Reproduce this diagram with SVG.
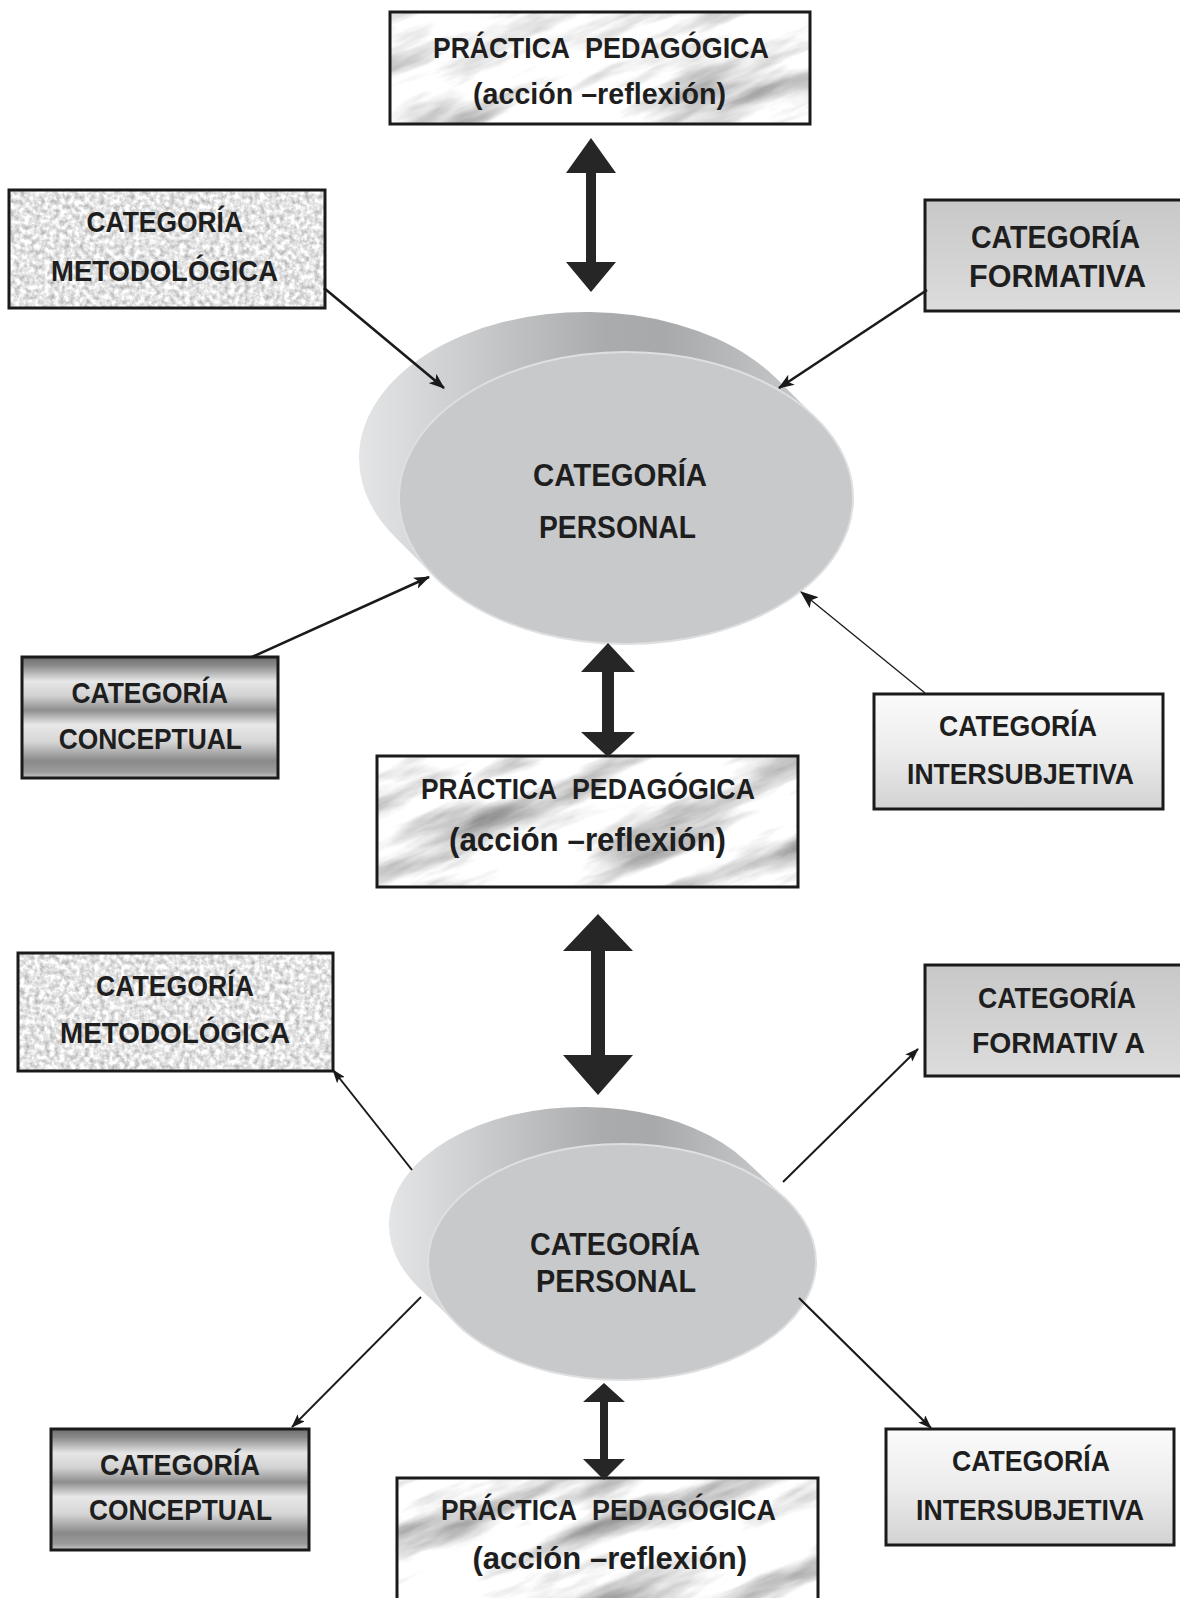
<svg xmlns="http://www.w3.org/2000/svg" width="1180" height="1598" viewBox="0 0 1180 1598">
<defs>
<style>
.t{font-family:"Liberation Sans",Arial,sans-serif;font-weight:bold;fill:#1e1e1e;font-size:29.3px}
.box{fill:none;stroke:#1a1a1a;stroke-width:3}
.ln{stroke:#1a1a1a;fill:none}
.dbl{fill:#262626}
.front{fill:#c8c9cb;stroke:#dedfe1;stroke-width:2}
.back{fill:url(#backG)}
.marble{fill:url(#marbleP)}
</style>
<filter id="marble" x="0" y="0" width="1" height="1" color-interpolation-filters="sRGB">
<feTurbulence type="fractalNoise" baseFrequency="0.006 0.03" numOctaves="5" seed="7"/>
<feColorMatrix type="matrix" values="1.0 0 0 0 0.46  1.0 0 0 0 0.46  1.0 0 0 0 0.46  0 0 0 0 1"/>
</filter>
<pattern id="marbleP" patternUnits="userSpaceOnUse" x="-600" y="-400" width="2400" height="2400" patternTransform="rotate(-22 600 800)">
<rect x="0" y="0" width="2400" height="2400" filter="url(#marble)"/>
</pattern>
<filter id="granite" x="0" y="0" width="1" height="1" color-interpolation-filters="sRGB">
<feTurbulence type="fractalNoise" baseFrequency="0.2" numOctaves="3" seed="3"/>
<feColorMatrix type="matrix" values="0.55 0 0 0 0.62  0.55 0 0 0 0.62  0.55 0 0 0 0.62  0 0 0 0 1"/>
</filter>
<linearGradient id="formG" x1="0" y1="0" x2="0" y2="1">
<stop offset="0" stop-color="#c8c8c8"/><stop offset="1" stop-color="#dcdcdc"/>
</linearGradient>
<linearGradient id="interG" x1="0" y1="0" x2="0" y2="1">
<stop offset="0" stop-color="#fbfbfb"/><stop offset="0.5" stop-color="#ececec"/><stop offset="1" stop-color="#d2d2d2"/>
</linearGradient>
<linearGradient id="concG" x1="0" y1="0" x2="0" y2="1">
<stop offset="0" stop-color="#6e6e6e"/><stop offset="0.07" stop-color="#8a8a8a"/><stop offset="0.2" stop-color="#e6e6e6"/><stop offset="0.32" stop-color="#d2d2d2"/><stop offset="0.44" stop-color="#8e8e8e"/><stop offset="0.56" stop-color="#e8e8e8"/><stop offset="0.7" stop-color="#d6d6d6"/><stop offset="0.86" stop-color="#898989"/><stop offset="0.95" stop-color="#9c9c9c"/><stop offset="1" stop-color="#c8c8c8"/>
</linearGradient>
<linearGradient id="backG" x1="0" y1="0" x2="1" y2="0">
<stop offset="0" stop-color="#e4e5e7"/><stop offset="0.15" stop-color="#d3d4d6"/><stop offset="0.5" stop-color="#aaabad"/><stop offset="0.62" stop-color="#a8a9ab"/><stop offset="0.85" stop-color="#c2c3c5"/><stop offset="1" stop-color="#cfd0d2"/>
</linearGradient>
<marker id="ah" markerUnits="userSpaceOnUse" viewBox="0 0 16 12" markerWidth="16" markerHeight="12" refX="15" refY="6" orient="auto"><path d="M0,0 L16,6 L0,12 L4,6 Z" fill="#1a1a1a"/></marker>
<marker id="ah2" markerUnits="userSpaceOnUse" viewBox="0 0 18 14" markerWidth="18" markerHeight="14" refX="17" refY="7" orient="auto"><path d="M0,0 L18,7 L0,14 L4,7 Z" fill="#1a1a1a"/></marker>
<marker id="ah3" markerUnits="userSpaceOnUse" viewBox="0 0 14 10" markerWidth="14" markerHeight="10" refX="13" refY="5" orient="auto"><path d="M0,0 L14,5 L0,10 L3,5 Z" fill="#1a1a1a"/></marker>
</defs>
<rect width="1180" height="1598" fill="#ffffff"/>

<g id="practica1">
<rect class="marble" x="390" y="12" width="420" height="112"/>
<rect class="box" x="390" y="12" width="420" height="112"/>
<text class="t" y="58"><tspan x="433" textLength="136" lengthAdjust="spacingAndGlyphs">PRÁCTICA</tspan> <tspan x="585" textLength="184" lengthAdjust="spacingAndGlyphs">PEDAGÓGICA</tspan></text>
<text class="t" x="473" y="104" style="font-size:29.5px" textLength="253" lengthAdjust="spacingAndGlyphs">(acción –reflexión)</text>
</g>

<g id="metodologica1">
<rect x="9" y="190" width="316" height="118" filter="url(#granite)"/>
<rect class="box" x="9" y="190" width="316" height="118"/>
<text class="t" x="86.5" y="232" textLength="156.5" lengthAdjust="spacingAndGlyphs">CATEGORÍA</text>
<text class="t" x="51" y="281" textLength="227" lengthAdjust="spacingAndGlyphs">METODOLÓGICA</text>
</g>

<g id="formativa1">
<rect x="925" y="200" width="260" height="111" fill="url(#formG)"/>
<rect class="box" x="925" y="200" width="260" height="111"/>
<text class="t" x="971" y="248" style="font-size:31.4px" textLength="169" lengthAdjust="spacingAndGlyphs">CATEGORÍA</text>
<text class="t" x="969" y="287" style="font-size:31.4px" textLength="177" lengthAdjust="spacingAndGlyphs">FORMATIVA</text>
</g>

<g id="personal1">
<path class="back" d="M817,419.1 A227,146 0 0 1 435,576.9 L395,536.9 A227,146 0 0 1 777,379.1 Z"/>
<ellipse class="front" cx="626" cy="498" rx="227" ry="146"/>
<text class="t" x="533" y="486" style="font-size:32px" textLength="174" lengthAdjust="spacingAndGlyphs">CATEGORÍA</text>
<text class="t" x="539" y="538" style="font-size:32px" textLength="157" lengthAdjust="spacingAndGlyphs">PERSONAL</text>
</g>

<g id="conceptual1">
<rect x="22" y="657" width="256" height="121" fill="url(#concG)"/>
<rect class="box" x="22" y="657" width="256" height="121"/>
<text class="t" x="71.5" y="703" textLength="156.5" lengthAdjust="spacingAndGlyphs">CATEGORÍA</text>
<text class="t" x="58.7" y="749" textLength="183.3" lengthAdjust="spacingAndGlyphs">CONCEPTUAL</text>
</g>

<g id="intersubjetiva1">
<rect x="874" y="694" width="289" height="115" fill="url(#interG)"/>
<rect class="box" x="874" y="694" width="289" height="115"/>
<text class="t" x="939" y="736" textLength="158" lengthAdjust="spacingAndGlyphs">CATEGORÍA</text>
<text class="t" x="907" y="784" textLength="227" lengthAdjust="spacingAndGlyphs">INTERSUBJETIVA</text>
</g>

<g id="practica2">
<rect class="marble" x="377" y="756" width="421" height="131"/>
<rect class="box" x="377" y="756" width="421" height="131"/>
<text class="t" y="799"><tspan x="421" textLength="135" lengthAdjust="spacingAndGlyphs">PRÁCTICA</tspan> <tspan x="572" textLength="183" lengthAdjust="spacingAndGlyphs">PEDAGÓGICA</tspan></text>
<text class="t" x="449" y="851" style="font-size:32.3px" textLength="277" lengthAdjust="spacingAndGlyphs">(acción –reflexión)</text>
</g>

<g id="metodologica2">
<rect x="18" y="953" width="315" height="118" filter="url(#granite)"/>
<rect class="box" x="18" y="953" width="315" height="118"/>
<text class="t" x="96" y="996" textLength="158" lengthAdjust="spacingAndGlyphs">CATEGORÍA</text>
<text class="t" x="60" y="1043" textLength="230" lengthAdjust="spacingAndGlyphs">METODOLÓGICA</text>
</g>

<g id="formativa2">
<rect x="925" y="965" width="260" height="111" fill="url(#formG)"/>
<rect class="box" x="925" y="965" width="260" height="111"/>
<text class="t" x="978" y="1008" textLength="158" lengthAdjust="spacingAndGlyphs">CATEGORÍA</text>
<text class="t" x="972" y="1053" textLength="173" lengthAdjust="spacingAndGlyphs">FORMATIV A</text>
</g>

<g id="personal2">
<path class="back" d="M785.4,1198.4 A194,118 0 0 1 458.6,1325.6 L418.6,1287.6 A194,118 0 0 1 745.4,1160.4 Z"/>
<ellipse class="front" cx="622" cy="1262" rx="194" ry="118"/>
<text class="t" x="530" y="1255" style="font-size:31.6px" textLength="170" lengthAdjust="spacingAndGlyphs">CATEGORÍA</text>
<text class="t" x="536" y="1292" style="font-size:31.6px" textLength="160" lengthAdjust="spacingAndGlyphs">PERSONAL</text>
</g>

<g id="conceptual2">
<rect x="51" y="1429" width="258" height="121" fill="url(#concG)"/>
<rect class="box" x="51" y="1429" width="258" height="121"/>
<text class="t" x="100" y="1475" textLength="160" lengthAdjust="spacingAndGlyphs">CATEGORÍA</text>
<text class="t" x="89" y="1520" textLength="183" lengthAdjust="spacingAndGlyphs">CONCEPTUAL</text>
</g>

<g id="intersubjetiva2">
<rect x="886" y="1429" width="288" height="116" fill="url(#interG)"/>
<rect class="box" x="886" y="1429" width="288" height="116"/>
<text class="t" x="952" y="1471" textLength="158" lengthAdjust="spacingAndGlyphs">CATEGORÍA</text>
<text class="t" x="916" y="1520" textLength="228" lengthAdjust="spacingAndGlyphs">INTERSUBJETIVA</text>
</g>

<g id="practica3">
<rect class="marble" x="397" y="1478" width="421" height="130"/>
<rect class="box" x="397" y="1478" width="421" height="130"/>
<text class="t" y="1520"><tspan x="441" textLength="135" lengthAdjust="spacingAndGlyphs">PRÁCTICA</tspan> <tspan x="592" textLength="184" lengthAdjust="spacingAndGlyphs">PEDAGÓGICA</tspan></text>
<text class="t" x="472.5" y="1569" style="font-size:32px" textLength="274.5" lengthAdjust="spacingAndGlyphs">(acción –reflexión)</text>
</g>

<g id="connectors">
<path class="dbl" d="M591,138 L616,173 L596,173 L596,262 L616,262 L591,292 L566,262 L586,262 L586,173 L566,173 Z"/>
<path class="dbl" d="M608,643 L635,672 L614,672 L614,732 L635,732 L608,757 L581,732 L602,732 L602,672 L581,672 Z"/>
<path class="dbl" d="M598,914 L633,951 L605,951 L605,1055 L633,1055 L598,1095 L563,1055 L591,1055 L591,951 L563,951 Z"/>
<path class="dbl" d="M604,1383 L625,1402 L608,1402 L608,1459 L625,1459 L604,1480 L583,1459 L600,1459 L600,1402 L583,1402 Z"/>
<path class="ln" d="M324,288 L444,388" stroke-width="2.6" marker-end="url(#ah)"/>
<path class="ln" d="M927,290 L779,388" stroke-width="2.6" marker-end="url(#ah)"/>
<path class="ln" d="M252,657 L429,577" stroke-width="2.6" marker-end="url(#ah)"/>
<path class="ln" d="M925,693 L801,592" stroke-width="1.3" marker-end="url(#ah2)"/>
<path class="ln" d="M412,1170 L333,1070" stroke-width="2" marker-end="url(#ah3)"/>
<path class="ln" d="M783,1182 L918,1049" stroke-width="2" marker-end="url(#ah3)"/>
<path class="ln" d="M421,1297 L292,1427" stroke-width="1.8" marker-end="url(#ah3)"/>
<path class="ln" d="M799,1298 L931,1428" stroke-width="2.2" marker-end="url(#ah3)"/>
</g>
</svg>
